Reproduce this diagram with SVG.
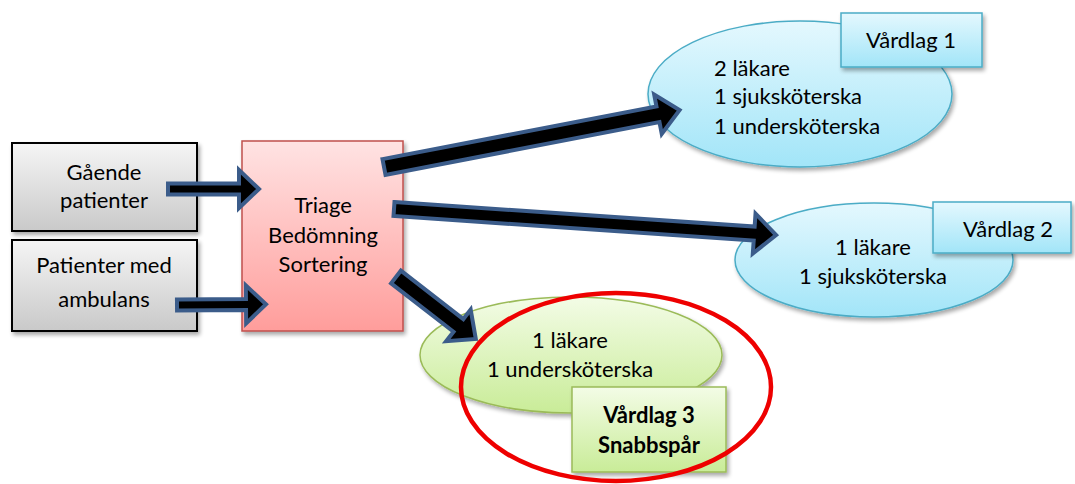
<svg xmlns="http://www.w3.org/2000/svg" width="1075" height="484" viewBox="0 0 1075 484">
<defs>
<linearGradient id="gGray" x1="0" y1="0" x2="0" y2="1"><stop offset="0" stop-color="#f5f5f5"/><stop offset="1" stop-color="#c9c9c9"/></linearGradient>
<linearGradient id="gPink" x1="0" y1="0" x2="0" y2="1"><stop offset="0" stop-color="#ffe3e3"/><stop offset="1" stop-color="#ff9d9b"/></linearGradient>
<linearGradient id="gBlue" x1="0" y1="0" x2="0" y2="1"><stop offset="0" stop-color="#e4f8fe"/><stop offset="1" stop-color="#a2e5f8"/></linearGradient>
<linearGradient id="gGreen" x1="0" y1="0" x2="0" y2="1"><stop offset="0" stop-color="#f3fce6"/><stop offset="1" stop-color="#c9ec98"/></linearGradient>
<filter id="sh" x="-10%" y="-10%" width="125%" height="130%"><feGaussianBlur in="SourceAlpha" stdDeviation="2"/><feOffset dx="2" dy="3"/><feComponentTransfer><feFuncA type="linear" slope="0.35"/></feComponentTransfer><feMerge><feMergeNode/><feMergeNode in="SourceGraphic"/></feMerge></filter>
</defs>
<style>
text{font-family:Lato,"Liberation Sans",sans-serif;font-size:22px;fill:#000}
.c{text-anchor:middle}
.b{font-weight:bold}
.gray{fill:url(#gGray);stroke:#000;stroke-width:2}
.pink{fill:url(#gPink);stroke:#c0504d;stroke-width:1.5}
.blue{fill:url(#gBlue);stroke:#4bacc6;stroke-width:1.5}
.green{fill:url(#gGreen);stroke:#9bbb59;stroke-width:1.5}
.arr{fill:#000;stroke:#3b5c8a;stroke-width:4;stroke-linejoin:miter}
</style>
<g id="gaende" filter="url(#sh)"><rect class="gray" x="12" y="143" width="185" height="88"/></g>
<text class="c" x="104" y="180">Gående</text><text class="c" x="104" y="208">patienter</text>
<g id="ambulans" filter="url(#sh)"><rect class="gray" x="12" y="240" width="185" height="91"/></g>
<text class="c" x="104" y="273">Patienter med</text><text class="c" x="104" y="307">ambulans</text>
<g id="triage"><rect class="pink" x="242" y="141" width="161" height="190" filter="url(#sh)"/>
<text class="c" x="323" y="213">Triage</text><text class="c" x="323" y="243">Bedömning</text><text class="c" x="323" y="272">Sortering</text></g>
<g id="vardlag1"><ellipse class="blue" cx="800" cy="94" rx="152" ry="73" filter="url(#sh)"/>
<text x="714" y="76">2 läkare</text><text x="714" y="104">1 sjuksköterska</text><text x="714" y="134">1 undersköterska</text>
<rect class="blue" x="841" y="13" width="141" height="54" filter="url(#sh)"/><text class="c" x="911" y="48">Vårdlag 1</text></g>
<g id="vardlag2"><ellipse class="blue" cx="874" cy="260" rx="139" ry="57" filter="url(#sh)"/>
<text class="c" x="873" y="255">1 läkare</text><text class="c" x="873" y="284">1 sjuksköterska</text>
<rect class="blue" x="933" y="202" width="138" height="51" filter="url(#sh)"/><text class="c" x="1008" y="237">Vårdlag 2</text></g>
<g id="vardlag3"><ellipse class="green" cx="571" cy="355" rx="151" ry="58" filter="url(#sh)"/>
<text class="c" x="570" y="348">1 läkare</text><text class="c" x="570" y="377">1 undersköterska</text>
<rect class="green" x="572" y="387" width="154" height="85" filter="url(#sh)"/><text class="c b" x="649" y="423">Vårdlag 3</text><text class="c b" x="649" y="453">Snabbspår</text></g>
<g id="connectors">
<path class="arr" transform="translate(168,189)" d="M0,-5.5 L71,-5.5 L71,-19 L91,0 L71,19 L71,5.5 L0,5.5 Z"/>
<path class="arr" transform="translate(177,305) rotate(-0.5)" d="M0,-5.5 L69,-5.5 L69,-19 L89,0 L69,19 L69,5.5 L0,5.5 Z"/>
<path class="arr" transform="translate(384,167) rotate(-10.9)" d="M0,-8 L279,-8 L279,-20 L301,0 L279,20 L279,8 L0,8 Z"/>
<path class="arr" transform="translate(394,209) rotate(3.9)" d="M0,-7 L361,-7 L361,-20 L383,0 L361,20 L361,7 L0,7 Z"/>
<path class="arr" transform="translate(396,277) rotate(37.8)" d="M0,-8 L79,-8 L79,-20 L101,0 L79,20 L79,8 L0,8 Z"/>
</g>
<g id="highlight"><ellipse cx="616" cy="387" rx="155" ry="94" fill="none" stroke="#ee0000" stroke-width="4.5"/></g>
</svg>
